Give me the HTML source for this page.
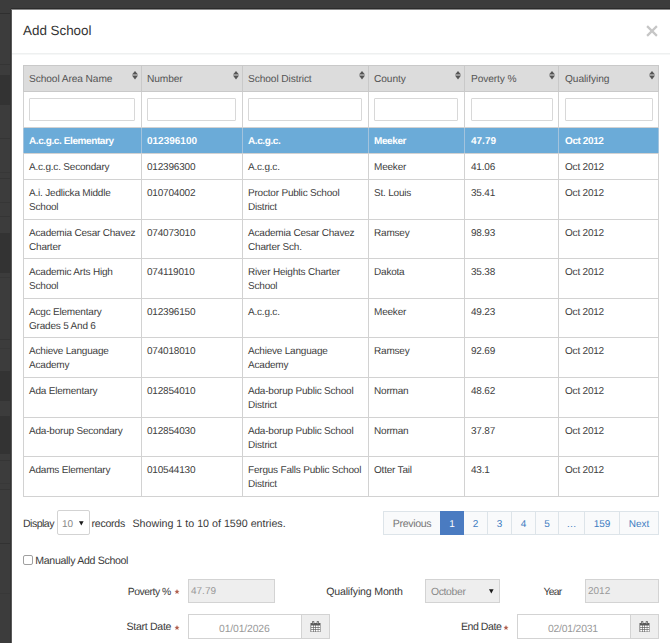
<!DOCTYPE html>
<html>
<head>
<meta charset="utf-8">
<style>
*{box-sizing:border-box;margin:0;padding:0}
html,body{width:670px;height:643px;overflow:hidden}
body{background:#3c3c3c;font-family:"Liberation Sans",sans-serif;color:#333;position:relative;text-rendering:geometricPrecision}
.band{position:absolute;left:0;width:11px;background:#333}
.modal{position:absolute;left:11px;top:9px;width:700px;height:700px;background:#fff;border:1px solid #5a5a5a;border-top-color:#8a8a8a;box-shadow:-1px 0 0 #333,0 -1px 0 #2c2c2c}
.title{position:absolute;left:23px;top:22.5px;font-size:13.4px;line-height:16px;color:#333;white-space:nowrap}
.close{position:absolute;left:646.3px;top:25.2px}
.hr{position:absolute;left:12px;top:53px;width:660px;height:2px;background:#eef0f0;border-bottom:1px solid #f6f7f7;height:2px}
table{position:absolute;left:23px;top:65px;border-collapse:collapse;table-layout:fixed;width:635px}
td,th{border:1px solid #d2d2d2;padding:0 0 0 5px;vertical-align:top;font-size:10px;letter-spacing:-0.2px;line-height:14px;text-align:left;font-weight:normal;overflow:hidden;white-space:nowrap;color:#404040}
th{background:#dcdcdc;color:#555;position:relative;border-color:#c9c9c9;padding-top:7px;font-size:10.2px;letter-spacing:-0.1px}
th .s{position:absolute;right:2.6px;top:4.8px}
tr.f td{padding:6px 0 0 5px}
tr.f input{display:block;width:calc(100% - 6px);height:23px;border:1px solid #d8d8d8;border-radius:1px;background:#fff}
tr.r td{padding-top:7px}
tr.sel td:nth-child(2),tr.sel td:nth-child(5){letter-spacing:0px}
td:nth-child(n+5),th:nth-child(n+5),tr.f td:nth-child(n+5){padding-left:6px}
tr.f td:nth-child(n+5) input{width:calc(100% - 5px)}
tr.sel td{background:#6babd8;color:#fff;font-weight:bold;font-size:10px;letter-spacing:-0.4px;border-left-color:#a3c3dd;border-right-color:#a3c3dd}
.t{position:absolute;color:#3a3a3a;white-space:nowrap;line-height:12px}
.box{position:absolute;border:1px solid #d3d3d3;background:#fff}
.dis{background:#eee}
.pag{position:absolute;top:511px;height:24px;border:1px solid #dde4e9;background:#f9fafb;color:#3d7cc1;font-size:10px;text-align:center;line-height:25px}
.pag.act{background:#4a7bc1;border-color:#4a7bc1;color:#fff;z-index:2}
.ast{position:absolute;line-height:0}
.v{position:absolute;font-size:10px;line-height:12px;color:#999;white-space:nowrap}
</style>
</head>
<body>
<div class="band" style="top:13px;height:1px;background:#2f2f2f"></div><div class="band" style="top:64px;height:1px;background:#353535"></div><div class="band" style="top:75px;height:30px;background:#333"></div><div class="band" style="top:138px;height:1px;background:#353535"></div><div class="band" style="top:172px;height:1px;background:#373737"></div><div class="band" style="top:178px;height:1px;background:#353535"></div><div class="band" style="top:202px;height:1px;background:#363636"></div><div class="band" style="top:216px;height:1px;background:#353535"></div><div class="band" style="top:233px;height:40px;background:#333"></div><div class="band" style="top:277px;height:1px;background:#373737"></div><div class="band" style="top:339px;height:1px;background:#353535"></div><div class="band" style="top:348px;height:1px;background:#383838"></div><div class="band" style="top:371px;height:30px;background:#333"></div><div class="band" style="top:416px;height:1px;background:#333"></div><div class="band" style="top:417px;height:37px;background:#333"></div><div class="band" style="top:460px;height:1px;background:#353535"></div><div class="band" style="top:483px;height:1px;background:#383838"></div><div class="band" style="top:489px;height:1px;background:#353535"></div><div class="band" style="top:543px;height:1px;background:#323232"></div><div class="band" style="top:593px;height:1px;background:#383838"></div>

<div class="modal"></div>
<div class="title">Add School</div>
<svg class="close" width="12" height="12" viewBox="0 0 12 12"><path d="M1.1 1.1L10.9 10.9M10.9 1.1L1.1 10.9" stroke="#c6c6c6" stroke-width="2.2"/></svg>
<div class="hr"></div>

<table>
<colgroup><col style="width:118px"><col style="width:101px"><col style="width:126px"><col style="width:96px"><col style="width:94px"><col style="width:100px"></colgroup>
<tr style="height:26px"><th>School Area Name<svg class="s" width="6" height="9"><path d="M0 3.6L3 0L6 3.6Z M0 4.6L3 8.4L6 4.6Z" fill="#555"/></svg></th><th>Number<svg class="s" width="6" height="9"><path d="M0 3.6L3 0L6 3.6Z M0 4.6L3 8.4L6 4.6Z" fill="#555"/></svg></th><th>School District<svg class="s" width="6" height="9"><path d="M0 3.6L3 0L6 3.6Z M0 4.6L3 8.4L6 4.6Z" fill="#555"/></svg></th><th>County<svg class="s" width="6" height="9"><path d="M0 3.6L3 0L6 3.6Z M0 4.6L3 8.4L6 4.6Z" fill="#555"/></svg></th><th>Poverty %<svg class="s" width="6" height="9"><path d="M0 3.6L3 0L6 3.6Z M0 4.6L3 8.4L6 4.6Z" fill="#555"/></svg></th><th>Qualifying<svg class="s" width="6" height="9"><path d="M0 3.6L3 0L6 3.6Z M0 4.6L3 8.4L6 4.6Z" fill="#555"/></svg></th></tr>
<tr class="f" style="height:36px"><td><input></td><td><input></td><td><input></td><td><input></td><td><input></td><td><input></td></tr>
<tr class="r sel" style="height:26px"><td>A.c.g.c. Elementary</td><td>012396100</td><td>A.c.g.c.</td><td>Meeker</td><td>47.79</td><td>Oct 2012</td></tr>
<tr class="r" style="height:26px"><td>A.c.g.c. Secondary</td><td>012396300</td><td>A.c.g.c.</td><td>Meeker</td><td>41.06</td><td>Oct 2012</td></tr>
<tr class="r" style="height:39.6px"><td>A.i. Jedlicka Middle<br>School</td><td>010704002</td><td>Proctor Public School<br>District</td><td>St. Louis</td><td>35.41</td><td>Oct 2012</td></tr>
<tr class="r" style="height:39.6px"><td>Academia Cesar Chavez<br>Charter</td><td>074073010</td><td>Academia Cesar Chavez<br>Charter Sch.</td><td>Ramsey</td><td>98.93</td><td>Oct 2012</td></tr>
<tr class="r" style="height:39.6px"><td>Academic Arts High<br>School</td><td>074119010</td><td>River Heights Charter<br>School</td><td>Dakota</td><td>35.38</td><td>Oct 2012</td></tr>
<tr class="r" style="height:39.6px"><td>Acgc Elementary<br>Grades 5 And 6</td><td>012396150</td><td>A.c.g.c.</td><td>Meeker</td><td>49.23</td><td>Oct 2012</td></tr>
<tr class="r" style="height:39.6px"><td>Achieve Language<br>Academy</td><td>074018010</td><td>Achieve Language<br>Academy</td><td>Ramsey</td><td>92.69</td><td>Oct 2012</td></tr>
<tr class="r" style="height:39.6px"><td>Ada Elementary</td><td>012854010</td><td>Ada-borup Public School<br>District</td><td>Norman</td><td>48.62</td><td>Oct 2012</td></tr>
<tr class="r" style="height:39.6px"><td>Ada-borup Secondary</td><td>012854030</td><td>Ada-borup Public School<br>District</td><td>Norman</td><td>37.87</td><td>Oct 2012</td></tr>
<tr class="r" style="height:39.6px"><td>Adams Elementary</td><td>010544130</td><td>Fergus Falls Public School<br>District</td><td>Otter Tail</td><td>43.1</td><td>Oct 2012</td></tr>
</table>

<div class="t" style="left:23px;top:518px;font-size:10.6px;letter-spacing:-0.54px;">Display</div>
<div class="box" style="left:57px;top:510px;width:33px;height:25px;border-radius:2px"><span class="v" style="left:4px;top:8px;color:#888">10</span><span style="position:absolute;left:21px;top:10px;line-height:0"><svg width="5" height="5" viewBox="0 0 5 5"><path d="M0 0.3H4.6L2.3 4.5Z" fill="#1a1a1a"/></svg></span></div>
<div class="t" style="left:91.5px;top:518px;font-size:10.6px;letter-spacing:-0.26px;">records</div>
<div class="t" style="left:132.4px;top:517.5px;font-size:10.7px;letter-spacing:0px;">Showing 1 to 10 of 1590 entries.</div>

<div class="pag" style="left:383px;width:58px;color:#777;font-size:10.6px;letter-spacing:-0.36px">Previous</div>
<div class="pag act" style="left:440px;width:24px">1</div>
<div class="pag" style="left:463px;width:25px">2</div>
<div class="pag" style="left:487px;width:25px">3</div>
<div class="pag" style="left:511px;width:25px">4</div>
<div class="pag" style="left:535px;width:24px">5</div>
<div class="pag" style="left:558px;width:27px">…</div>
<div class="pag" style="left:584px;width:36px">159</div>
<div class="pag" style="left:619px;width:40px">Next</div>

<div style="position:absolute;left:23px;top:555px;width:10px;height:10px;border:1px solid #a0a0a0;border-radius:2px;background:#fff"></div>
<div class="t" style="left:35.3px;top:555px;font-size:10.6px;letter-spacing:-0.32px;">Manually Add School</div>

<div class="t" style="left:127.7px;top:587px;font-size:10.4px;letter-spacing:-0.46px;">Poverty %</div><div class="ast" style="left:174px;top:589px"><svg width="6" height="5" viewBox="0 -0.2 5.5 5.1"><path d="M2.75 -0.15L3.46 1.63L5.37 1.75L3.89 2.97L4.37 4.82L2.75 3.80L1.13 4.82L1.61 2.97L0.13 1.75L2.04 1.63Z" fill="#b0604f"/></svg></div>
<div class="box dis" style="left:188px;top:579px;width:87px;height:24px"><span class="v" style="left:2px;top:6px">47.79</span></div>
<div class="t" style="left:326.2px;top:585.5px;font-size:10.6px;letter-spacing:-0.18px;">Qualifying Month</div>
<div class="box dis" style="left:425px;top:579px;width:75px;height:24px"><span class="v" style="left:5px;top:7px;font-size:10.4px;color:#888;letter-spacing:-0.35px">October</span><span style="position:absolute;left:63px;top:9px;line-height:0"><svg width="5" height="5" viewBox="0 0 5 5"><path d="M0 0.3H4.6L2.3 4.5Z" fill="#1a1a1a"/></svg></span></div>
<div class="t" style="left:543.6px;top:587px;font-size:10.4px;letter-spacing:-0.8px;">Year</div>
<div class="box dis" style="left:585px;top:579px;width:74px;height:24px"><span class="v" style="left:2px;top:6px">2012</span></div>

<div class="t" style="left:126.6px;top:621px;font-size:10.6px;letter-spacing:-0.32px;">Start Date</div><div class="ast" style="left:174px;top:625px"><svg width="6" height="5" viewBox="0 -0.2 5.5 5.1"><path d="M2.75 -0.15L3.46 1.63L5.37 1.75L3.89 2.97L4.37 4.82L2.75 3.80L1.13 4.82L1.61 2.97L0.13 1.75L2.04 1.63Z" fill="#b0604f"/></svg></div>
<div class="box" style="left:188px;top:614px;width:114px;height:25px"><span class="v" style="left:30px;top:9px;font-size:10.4px;letter-spacing:-0.14px">01/01/2026</span></div>
<div class="box dis" style="left:301px;top:614px;width:29px;height:25px"><span style="position:absolute;left:8px;top:6px;line-height:0"><svg width="11" height="11" viewBox="0 0 11 11"><path d="M0.5 2H10.5V11H0.5Z" fill="#5a5a5a"/><g fill="#fff"><rect x="1.2" y="4.5" width="1.8" height="1.6"/><rect x="3.6" y="4.5" width="1.8" height="1.6"/><rect x="6.0" y="4.5" width="1.8" height="1.6"/><rect x="8.3" y="4.5" width="1.8" height="1.6"/><rect x="1.2" y="6.75" width="1.8" height="1.6"/><rect x="3.6" y="6.75" width="1.8" height="1.6"/><rect x="6.0" y="6.75" width="1.8" height="1.6"/><rect x="8.3" y="6.75" width="1.8" height="1.6"/><rect x="1.2" y="9.0" width="1.8" height="1.6"/><rect x="3.6" y="9.0" width="1.8" height="1.6"/><rect x="6.0" y="9.0" width="1.8" height="1.6"/><rect x="8.3" y="9.0" width="1.8" height="1.6"/></g><rect x="2.1" y="0" width="2.2" height="3.3" rx="0.8" fill="#5a5a5a"/><rect x="6.7" y="0" width="2.2" height="3.3" rx="0.8" fill="#5a5a5a"/><rect x="2.8" y="0.7" width="0.8" height="1.8" fill="#ddd"/><rect x="7.4" y="0.7" width="0.8" height="1.8" fill="#ddd"/></svg></span></div>
<div class="t" style="left:461px;top:621px;font-size:10.6px;letter-spacing:-0.48px;">End Date</div><div class="ast" style="left:503px;top:625px"><svg width="6" height="5" viewBox="0 -0.2 5.5 5.1"><path d="M2.75 -0.15L3.46 1.63L5.37 1.75L3.89 2.97L4.37 4.82L2.75 3.80L1.13 4.82L1.61 2.97L0.13 1.75L2.04 1.63Z" fill="#b0604f"/></svg></div>
<div class="box" style="left:517px;top:614px;width:114px;height:25px"><span class="v" style="left:30px;top:9px;font-size:10.4px;letter-spacing:-0.22px">02/01/2031</span></div>
<div class="box dis" style="left:630px;top:614px;width:29px;height:25px"><span style="position:absolute;left:8px;top:6px;line-height:0"><svg width="11" height="11" viewBox="0 0 11 11"><path d="M0.5 2H10.5V11H0.5Z" fill="#5a5a5a"/><g fill="#fff"><rect x="1.2" y="4.5" width="1.8" height="1.6"/><rect x="3.6" y="4.5" width="1.8" height="1.6"/><rect x="6.0" y="4.5" width="1.8" height="1.6"/><rect x="8.3" y="4.5" width="1.8" height="1.6"/><rect x="1.2" y="6.75" width="1.8" height="1.6"/><rect x="3.6" y="6.75" width="1.8" height="1.6"/><rect x="6.0" y="6.75" width="1.8" height="1.6"/><rect x="8.3" y="6.75" width="1.8" height="1.6"/><rect x="1.2" y="9.0" width="1.8" height="1.6"/><rect x="3.6" y="9.0" width="1.8" height="1.6"/><rect x="6.0" y="9.0" width="1.8" height="1.6"/><rect x="8.3" y="9.0" width="1.8" height="1.6"/></g><rect x="2.1" y="0" width="2.2" height="3.3" rx="0.8" fill="#5a5a5a"/><rect x="6.7" y="0" width="2.2" height="3.3" rx="0.8" fill="#5a5a5a"/><rect x="2.8" y="0.7" width="0.8" height="1.8" fill="#ddd"/><rect x="7.4" y="0.7" width="0.8" height="1.8" fill="#ddd"/></svg></span></div>
</body>
</html>
